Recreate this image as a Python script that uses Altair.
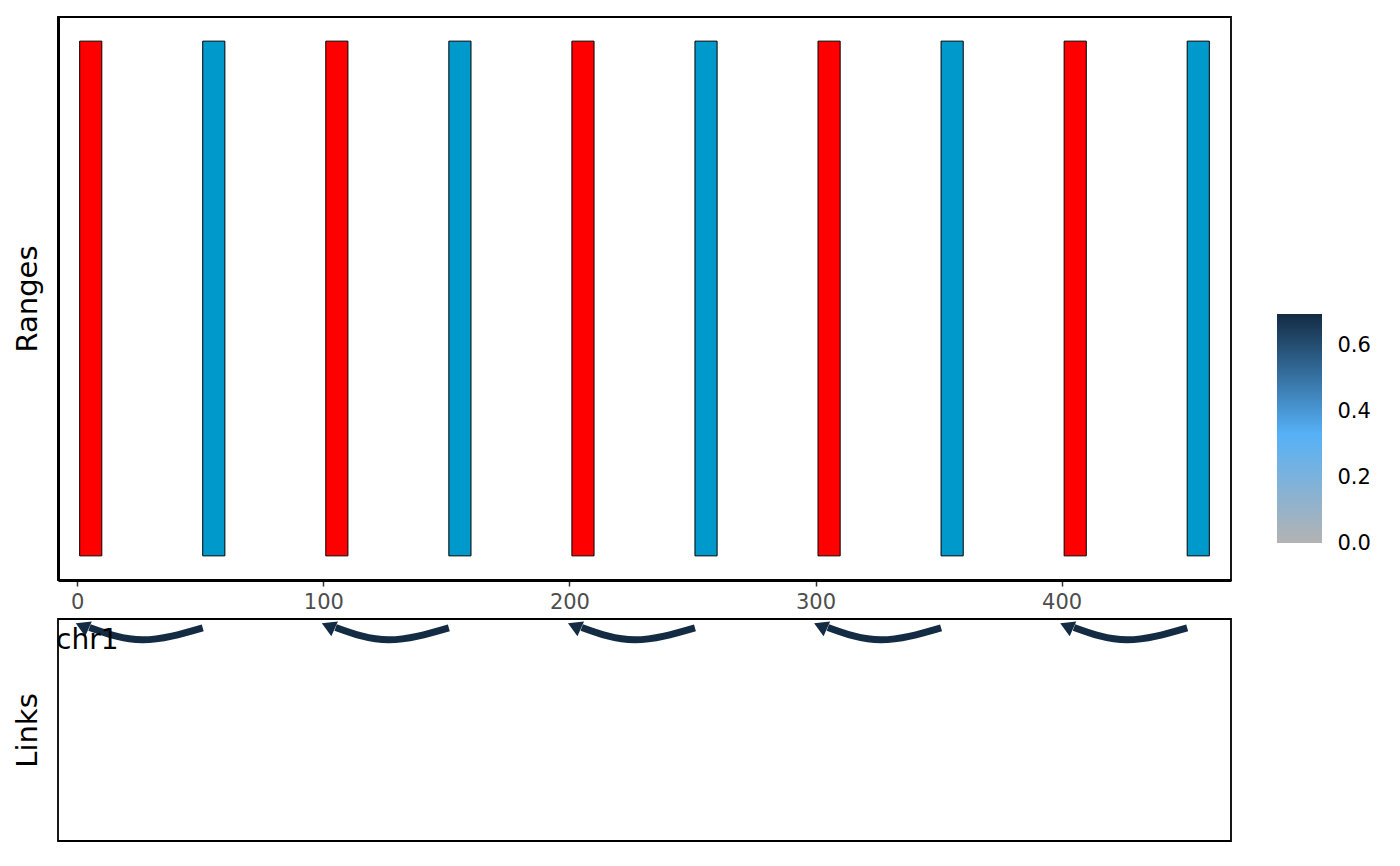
import altair as alt
import pandas as pd

# ---- data ----
range_starts = [1, 51, 101, 151, 201, 251, 301, 351, 401, 451]
range_ends = [10, 60, 110, 160, 210, 260, 310, 360, 410, 460]
range_groups = ["a", "b", "a", "b", "a", "b", "a", "b", "a", "b"]
link_from = [51, 151, 251, 351, 451]
link_to = [1, 101, 201, 301, 401]
link_score = [0.694, 0.694, 0.694, 0.694, 0.694]
x_ticks = [0, 100, 200, 300, 400]
legend_ticks = [0.0, 0.2, 0.4, 0.6]
score_limits = [0.0, 0.694]
chrom_label = ["chr1"]

FONT = "DejaVu Sans"
XDOM = [-7.8, 468.8]

ranges = pd.DataFrame({
    "start": range_starts,
    "end": range_ends,
    "grp": range_groups,
})
ranges["ylo"] = 0.6
ranges["yhi"] = 1.4

# curve rows for links (tail -> sag -> head)
rows = []
heads = []
for i, (f, t, s) in enumerate(zip(link_from, link_to, link_score)):
    rows.append({"link": i, "ord": 0, "x": f, "y": 0.960, "score": s})
    rows.append({"link": i, "ord": 1, "x": (f + t) / 2 + 0.5, "y": 0.906, "score": s})
    rows.append({"link": i, "ord": 2, "x": t + 4, "y": 0.962, "score": s})
    heads.append({"link": i, "x": t + 1.0, "y": 0.968, "score": s})
curves = pd.DataFrame(rows)
headdf = pd.DataFrame(heads)
labeldf = pd.DataFrame({"label": chrom_label})
bardf = pd.DataFrame({"lo": [score_limits[0]], "hi": [score_limits[1]]})

xscale = alt.Scale(domain=XDOM, nice=False, zero=False)
cstops = [0.0, 0.33, 0.694]
ccolors = ["#B3B3B3", "#56B1F7", "#132B43"]
cscale = alt.Scale(domain=cstops, range=ccolors)

top = alt.Chart(ranges).mark_rect(stroke="black", strokeWidth=1).encode(
    x=alt.X("start:Q", scale=xscale,
            axis=alt.Axis(values=x_ticks, title=None, grid=False,
                          domainColor="black", domainWidth=3,
                          tickColor="#333333", tickWidth=1.5, tickSize=6,
                          labelColor="#4D4D4D", labelFontSize=21, labelFont=FONT,
                          labelPadding=5)),
    x2="end:Q",
    y=alt.Y("ylo:Q", scale=alt.Scale(domain=[0.5625, 1.4375], nice=False, zero=False),
            axis=alt.Axis(title="Ranges", labels=False, ticks=False, grid=False,
                          domainColor="black", domainWidth=3,
                          titleFontSize=29, titleFont=FONT, titleFontWeight="normal",
                          titleColor="black", titlePadding=16)),
    y2="yhi:Q",
    fill=alt.Fill("grp:N", scale=alt.Scale(domain=["a", "b"], range=["#FF0000", "#0099CC"]),
                  legend=None),
).properties(width=1173, height=563)

ybot = alt.Scale(domain=[0, 1], nice=False, zero=False)

lines = alt.Chart(curves).mark_line(strokeWidth=7, interpolate="natural", strokeCap="butt").encode(
    x=alt.X("x:Q", scale=xscale, axis=None),
    y=alt.Y("y:Q", scale=ybot,
            axis=alt.Axis(title="Links", labels=False, ticks=False, grid=False, domain=False,
                          titleFontSize=29, titleFont=FONT, titleFontWeight="normal",
                          titleColor="black", titlePadding=16)),
    detail="link:N",
    order="ord:Q",
    color=alt.Color("score:Q", scale=cscale, legend=None),
)

arrows = alt.Chart(headdf).mark_point(shape="triangle-left", filled=True, size=260,
                                      angle=24, opacity=1, strokeWidth=0).encode(
    x=alt.X("x:Q", scale=xscale),
    y=alt.Y("y:Q", scale=ybot),
    color=alt.Color("score:Q", scale=cscale, legend=None),
)

label = alt.Chart(labeldf).mark_text(align="left", baseline="alphabetic", fontSize=28,
                                     font=FONT, color="black").encode(
    x=alt.value(-2), y=alt.value(30), text="label:N")

bottom = alt.layer(lines, arrows, label).properties(width=1173, height=222)

# colour bar (legend) drawn as a gradient-filled rect on its own scale
lim = score_limits[1]
grad = alt.LinearGradient(
    gradient="linear", x1=0, x2=0, y1=1, y2=0,
    stops=[alt.GradientStop(color=c, offset=s / lim) for s, c in zip(cstops, ccolors)],
)
cbscale = alt.Scale(domain=[-0.903, 1.594], nice=False, zero=False)
colorbar = alt.Chart(bardf).mark_rect(fill=grad).encode(
    y=alt.Y("lo:Q", scale=cbscale,
            axis=alt.Axis(orient="right", values=legend_ticks, format=".1f", title=None,
                          domain=False, ticks=False, grid=False, labelPadding=15,
                          labelFontSize=21, labelFont=FONT, labelColor="black",
                          labelBaseline="middle")),
    y2="hi:Q",
).properties(width=45, height=824, view=alt.ViewBackground(strokeWidth=0, stroke="transparent"))

left = alt.vconcat(top, bottom, spacing=39, bounds="flush").resolve_scale(
    fill="independent", color="independent", y="independent", x="independent"
)

chart = alt.hconcat(left, colorbar, spacing=45).resolve_scale(
    fill="independent", color="independent", y="independent", x="independent"
).configure_view(stroke="black", strokeWidth=1.8).properties(
    padding={"left": 12, "top": 16, "right": 5, "bottom": 5},
    background="white",
)

chart.save("out.html", embed_options={"renderer": "svg", "actions": False})
